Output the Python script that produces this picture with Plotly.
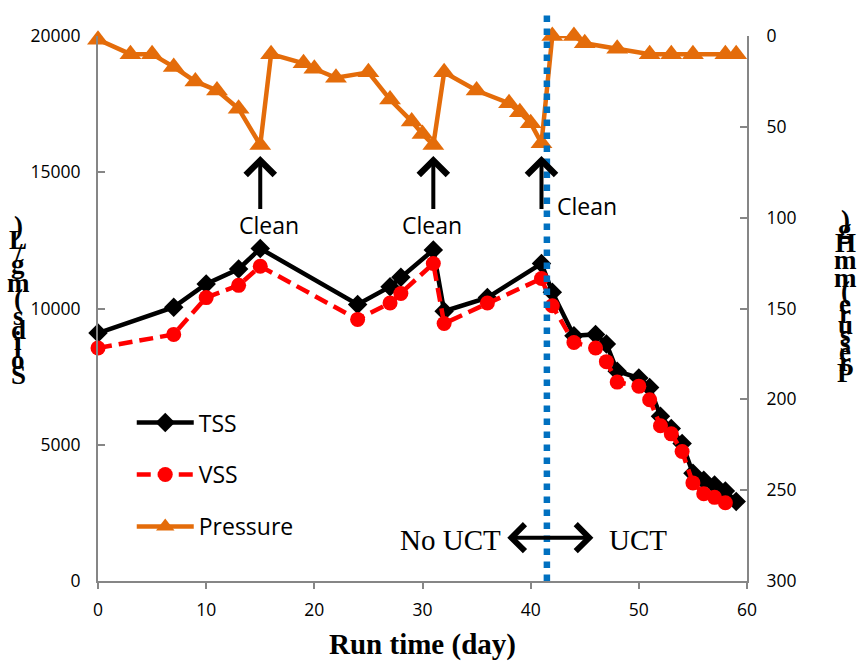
import plotly.graph_objects as go

# ---- data -------------------------------------------------------------
tss_day = [0, 7, 10, 13, 15, 24, 27, 28, 31, 32, 36, 41, 42, 44, 46, 47, 48,
           50, 51, 52, 53, 54, 55, 56, 57, 58, 59]
tss_val = [9100, 10050, 10900, 11450, 12200, 10150, 10800, 11150, 12150, 9900,
           10400, 11650, 10600, 9000, 9050, 8700, 7700, 7450, 7100, 6050, 5600,
           5050, 3950, 3700, 3520, 3300, 2920]

vss_day = [0, 7, 10, 13, 15, 24, 27, 28, 31, 32, 36, 41, 42, 44, 46, 47, 48,
           50, 51, 52, 53, 54, 55, 56, 57, 58]
vss_val = [8550, 9050, 10400, 10850, 11550, 9600, 10200, 10550, 11650, 9450,
           10200, 11100, 10100, 8750, 8550, 8050, 7300, 7150, 6650, 5700, 5400,
           4750, 3600, 3200, 3070, 2870]

pressure_day = [0, 3, 5, 7, 9, 11, 13, 15, 16, 19, 20, 22, 25, 27, 29, 30, 31,
                32, 35, 38, 39, 40, 41, 42, 44, 45, 48, 51, 53, 55, 58, 59]
pressure_val = [2, 10, 10, 17, 25, 30, 40, 60, 10, 15, 18, 23, 20, 35, 47, 54,
                60, 20, 30, 37, 42, 48, 59, 0, 0, 4, 7, 10, 10, 10, 10, 10]

clean_days = [15, 31, 41]
uct_start_day = 41.5

x_ticks = [0, 10, 20, 30, 40, 50, 60]
left_ticks = [0, 5000, 10000, 15000, 20000]
right_ticks = [0, 50, 100, 150, 200, 250, 300]

# ---- styling ----------------------------------------------------------
W, H = 859, 661
ML, MR, MT, MB = 98, 112, 36, 80
PW, PH = W - ML - MR, H - MT - MB
AXIS_GREY = "#868686"
ORANGE = "#E46C0A"
SANS = "Open Sans"
SERIF = "Liberation Serif"


def px_to_paper_x(px):
    return (px - ML) / PW


def px_to_paper_y(py):
    return (H - MB - py) / PH


fig = go.Figure()

fig.add_trace(go.Scatter(
    x=tss_day, y=tss_val, name="TSS", mode="lines+markers",
    line=dict(color="black", width=4.5),
    marker=dict(symbol="diamond", size=15, color="black"),
    legendgroup="tss", cliponaxis=False))

fig.add_trace(go.Scatter(
    x=vss_day, y=vss_val, name="VSS", mode="lines+markers",
    line=dict(color="#FF0000", width=4.5, dash="14px,7px"),
    marker=dict(symbol="circle", size=15, color="#FF0000"),
    legendgroup="vss", cliponaxis=False))

fig.add_trace(go.Scatter(
    x=pressure_day, y=pressure_val, name="Pressure", mode="lines+markers",
    yaxis="y2",
    line=dict(color=ORANGE, width=4.5),
    marker=dict(symbol="triangle-up", size=19, color=ORANGE),
    legendgroup="pressure", cliponaxis=False))

# dotted line marking the start of UCT operation
fig.add_shape(type="line", xref="x", yref="paper",
              x0=uct_start_day, x1=uct_start_day, y0=0, y1=1.048,
              line=dict(color="#0070C0", width=6.5, dash="dot"), layer="above")

annotations = []

# "Clean" arrows pointing at the pressure peaks
clean_text_pos = [(15.8, 104), (30.9, 104), (45.2, 93.6)]
for d, (tx, ty) in zip(clean_days, clean_text_pos):
    annotations.append(dict(
        x=d, y=66, xref="x", yref="y2", ax=d, ay=96, axref="x", ayref="y2",
        text="", showarrow=True, arrowhead=4, arrowsize=1.4, arrowwidth=4,
        arrowcolor="black", standoff=0, startstandoff=0))
    annotations.append(dict(
        x=tx, y=ty, xref="x", yref="y2", text="Clean", showarrow=False,
        font=dict(family=SANS, size=23, color="black"),
        xanchor="center", yanchor="middle"))

# No UCT <-> UCT double arrow
annotations.append(dict(
    x=45.8, y=1590, xref="x", yref="y", ax=37.7, ay=1590, axref="x", ayref="y",
    text="", showarrow=True, arrowhead=4, startarrowhead=4, arrowside="end+start",
    arrowsize=1.3, startarrowsize=1.3, arrowwidth=4, arrowcolor="black",
    standoff=0, startstandoff=0))
annotations.append(dict(
    x=32.6, y=1500, xref="x", yref="y", text="No UCT", showarrow=False,
    font=dict(family=SERIF, size=29, color="black"),
    xanchor="center", yanchor="middle"))
annotations.append(dict(
    x=49.9, y=1500, xref="x", yref="y", text="UCT", showarrow=False,
    font=dict(family=SERIF, size=29, color="black"),
    xanchor="center", yanchor="middle"))

# stacked (upright-glyph) vertical axis titles
TIMES_BOLD_W = {"S": .556, "o": .5, "l": .278, "i": .278, "d": .556, "s": .389,
                " ": .25, "(": .333, "m": .833, "g": .5, "/": .278, "L": .667,
                ")": .333, "P": .611, "r": .444, "e": .444, "u": .556, "H": .778}


def stacked_title(text, x_px, y_bottom_px, y_top_px, size):
    widths = [TIMES_BOLD_W.get(c, .5) for c in text]
    centers, acc = [], 0.0
    for w in widths:
        centers.append(acc + w / 2)
        acc += w
    scale = (y_bottom_px - y_top_px) / (centers[-1] - centers[0])
    out = []
    for ch, c in zip(text, centers):
        if ch == " ":
            continue
        py = y_bottom_px - (c - centers[0]) * scale
        out.append(dict(
            x=px_to_paper_x(x_px), y=px_to_paper_y(py), xref="paper", yref="paper",
            text="<b>%s</b>" % ch, showarrow=False,
            font=dict(family=SERIF, size=size, color="black"),
            xanchor="center", yanchor="middle"))
    return out


annotations += stacked_title("Solids (mg/L)", 18, 375, 226, 27)
annotations += stacked_title("Pressure (mmHg)", 845, 373, 220, 27)

tick_font = dict(family=SANS, size=17.5, color="black")

fig.update_layout(
    width=W, height=H, autosize=False,
    margin=dict(l=ML, r=MR, t=MT, b=MB, pad=0),
    paper_bgcolor="white", plot_bgcolor="white",
    showlegend=True,
    legend=dict(x=0.052, y=0.33, xanchor="left", yanchor="top",
                font=dict(family=SANS, size=23, color="black"),
                bgcolor="rgba(0,0,0,0)", tracegroupgap=19, itemwidth=57,
                traceorder="grouped"),
    xaxis=dict(range=[0, 60], tickvals=x_ticks, ticks="outside", ticklen=6,
               tickwidth=2, tickcolor=AXIS_GREY, showline=True,
               linecolor=AXIS_GREY, linewidth=2, showgrid=False, zeroline=False,
               tickfont=tick_font, automargin=False, ticklabelstandoff=6,
               title=dict(text="<b>Run time (day)</b>", standoff=19,
                          font=dict(family=SERIF, size=29, color="black"))),
    yaxis=dict(range=[0, 20000], tickvals=left_ticks, tickformat="d",
               ticks="inside", ticklen=7,
               tickwidth=2, tickcolor=AXIS_GREY, showline=True,
               linecolor=AXIS_GREY, linewidth=2, showgrid=False, zeroline=False,
               tickfont=tick_font, ticklabelstandoff=12, automargin=False),
    yaxis2=dict(range=[300, 0], tickvals=right_ticks, ticks="inside", ticklen=7,
                tickwidth=2, tickcolor=AXIS_GREY, showline=True,
                linecolor=AXIS_GREY, linewidth=2, showgrid=False, zeroline=False,
                tickfont=tick_font, overlaying="y", side="right",
                ticklabelstandoff=14, automargin=False),
    annotations=annotations,
)

fig.write_html("out.html")
